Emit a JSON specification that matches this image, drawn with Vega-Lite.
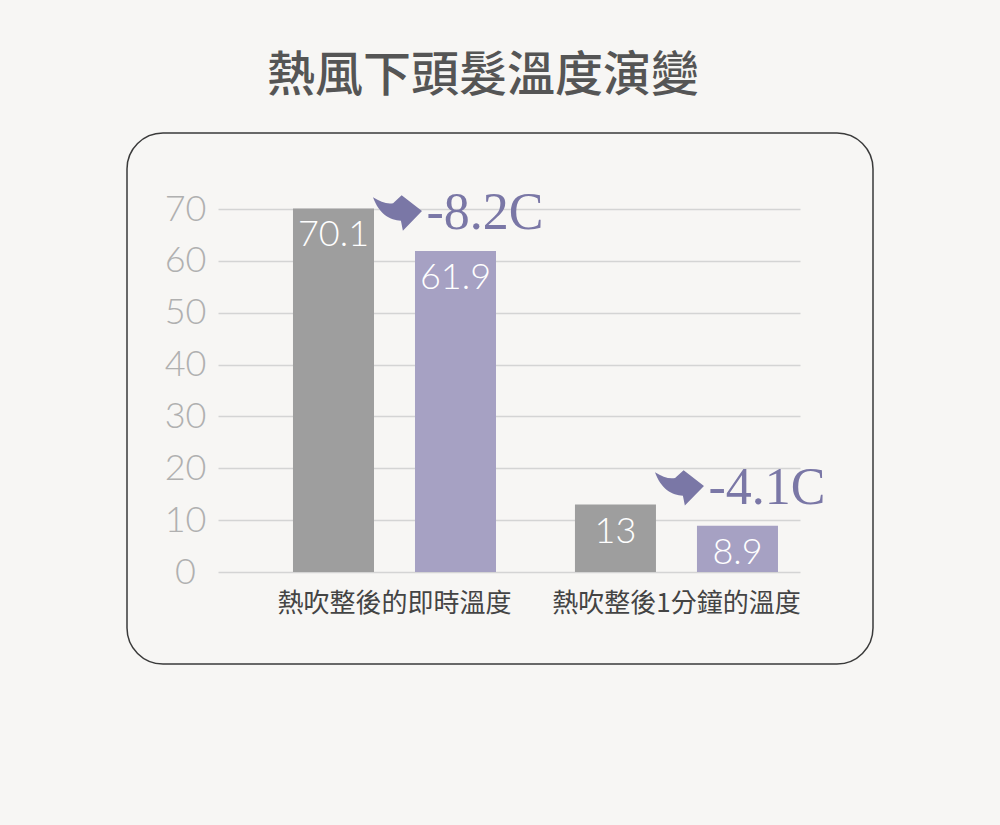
{
  "$schema": "https://vega.github.io/schema/vega-lite/v6.json",
  "width": 746,
  "height": 531,
  "autosize": {"type": "none"},
  "padding": {"left": 127, "top": 133, "right": 127, "bottom": 161},
  "background": "#f7f6f4",
  "title": {
    "text": "熱風下頭髮溫度演變",
    "font": "Noto Sans CJK TC",
    "fontSize": 48,
    "fontWeight": 500,
    "color": "#555555",
    "anchor": "middle",
    "frame": "group",
    "baseline": "bottom",
    "offset": -16,
    "dx": -17
  },
  "data": {
    "values": [
      {"category": "熱吹整後的即時溫度", "series": "基準", "value": 70.1},
      {"category": "熱吹整後的即時溫度", "series": "降溫後", "value": 61.9, "note": "-8.2C"},
      {"category": "熱吹整後1分鐘的溫度", "series": "基準", "value": 13},
      {"category": "熱吹整後1分鐘的溫度", "series": "降溫後", "value": 8.9, "note": "-4.1C"}
    ]
  },
  "encoding": {
    "x": {
      "field": "category",
      "type": "nominal",
      "sort": null,
      "scale": {
        "domain": ["熱吹整後的即時溫度", "熱吹整後1分鐘的溫度"],
        "range": [91, 673],
        "paddingInner": 0.28,
        "paddingOuter": 0.172,
        "align": 0.773
      },
      "axis": {
        "orient": "bottom",
        "offset": -92,
        "domain": false,
        "ticks": false,
        "tickSize": 0,
        "grid": false,
        "labelPadding": 18,
        "labelAngle": 0,
        "labelFont": "Noto Sans CJK TC",
        "labelFontSize": 26,
        "labelColor": "#444444",
        "labelBaseline": "top",
        "labelLimit": 500,
        "title": null
      }
    },
    "y": {
      "field": "value",
      "type": "quantitative",
      "scale": {"domain": [0, 70], "range": [439, 76], "nice": false, "zero": true},
      "axis": {
        "orient": "left",
        "offset": -91,
        "values": [0, 10, 20, 30, 40, 50, 60, 70],
        "domain": false,
        "ticks": false,
        "tickSize": 0,
        "labelPadding": 33,
        "labelAlign": "center",
        "labelBaseline": "middle",
        "labelFont": "Lato",
        "labelFontWeight": 300,
        "labelFontSize": 36,
        "labelColor": "#b0b0b0",
        "labelOverlap": false,
        "grid": true,
        "gridColor": "#d4d4d4",
        "gridWidth": 1.5,
        "title": null
      }
    }
  },
  "layer": [
    {
      "mark": {"type": "bar"},
      "encoding": {
        "xOffset": {
          "field": "series",
          "type": "nominal",
          "sort": null,
          "scale": {"domain": ["基準", "降溫後"], "paddingInner": 0.336, "paddingOuter": 0}
        },
        "color": {
          "field": "series",
          "type": "nominal",
          "scale": {"domain": ["基準", "降溫後"], "range": ["#9e9e9e", "#a6a1c3"]},
          "legend": null
        }
      }
    },
    {
      "mark": {
        "type": "text",
        "baseline": "top",
        "align": "center",
        "dy": 10,
        "font": "Lato",
        "fontWeight": 300,
        "fontSize": 36,
        "color": "#ffffff"
      },
      "encoding": {
        "xOffset": {"field": "series", "type": "nominal", "sort": null},
        "text": {"field": "value", "type": "quantitative"}
      }
    },
    {
      "transform": [{"filter": "isValid(datum.note)"}],
      "mark": {
        "type": "text",
        "align": "left",
        "baseline": "alphabetic",
        "dx": 32,
        "dy": -22,
        "font": "Liberation Serif",
        "fontSize": 52,
        "color": "#7a77a6"
      },
      "encoding": {
        "text": {"field": "note", "type": "nominal"}
      }
    },
    {
      "transform": [{"filter": "isValid(datum.note)"}],
      "mark": {
        "type": "point",
        "shape": "M -1 -0.64 C -0.7 -0.45 -0.45 -0.36 -0.18 -0.4 L 0.17 -0.72 L 1 -0.08 L 0.22 0.72 L 0.14 0.32 C -0.3 0.3 -0.75 0.05 -1 -0.64 Z",
        "size": 2401,
        "filled": true,
        "opacity": 1,
        "color": "#7a77a6",
        "xOffset": 3,
        "yOffset": -38
      },
      "encoding": {}
    }
  ],
  "config": {
    "view": {"stroke": "#3a3a3a", "strokeWidth": 1.5, "cornerRadius": 36, "fill": null}
  }
}
